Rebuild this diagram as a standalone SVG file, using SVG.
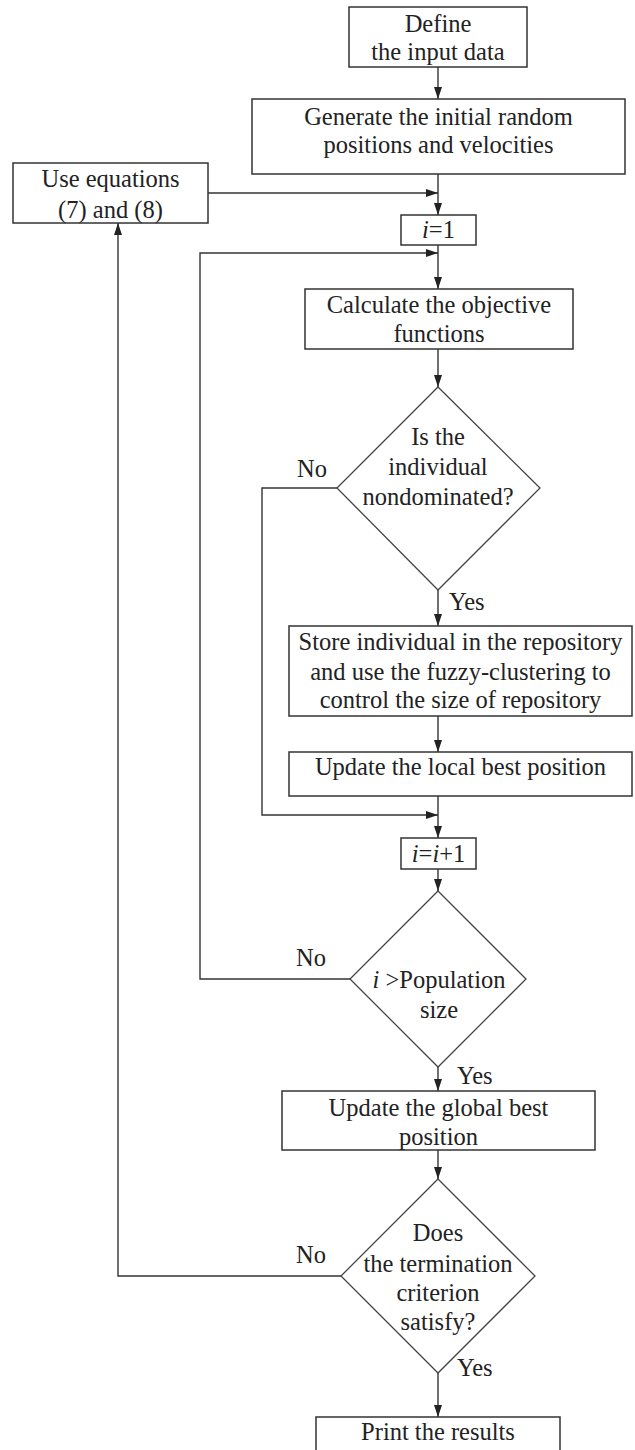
<svg xmlns="http://www.w3.org/2000/svg" width="635" height="1450" viewBox="0 0 635 1450">
<style>
.box{fill:#fff;stroke:#333;stroke-width:1.5}
.dia{fill:#fff;stroke:#444;stroke-width:1.3}
.ln{fill:none;stroke:#333;stroke-width:1.4}
.t{font-family:'Liberation Serif','Times New Roman',serif;font-size:24.5px;fill:#222}
.c{text-anchor:middle}
.it{font-style:italic}
</style>
<defs>
<marker id="ah" viewBox="0 0 12 8" refX="12" refY="4" markerWidth="12" markerHeight="8" markerUnits="userSpaceOnUse" orient="auto">
<path d="M0,0 L12,4 L0,8 Z" fill="#222"/>
</marker>
</defs>
<rect width="635" height="1450" fill="#fff"/>
<g id="connectors">
<line class="ln" x1="438" y1="67" x2="438" y2="99" marker-end="url(#ah)"/>
<line class="ln" x1="438" y1="174" x2="438" y2="215" marker-end="url(#ah)"/>
<line class="ln" x1="208" y1="193" x2="438" y2="193" marker-end="url(#ah)"/>
<line class="ln" x1="438" y1="245" x2="438" y2="289" marker-end="url(#ah)"/>
<polyline class="ln" points="350,979 200,979 200,253 438,253" marker-end="url(#ah)"/>
<line class="ln" x1="438" y1="349" x2="438" y2="387" marker-end="url(#ah)"/>
<line class="ln" x1="438" y1="590" x2="438" y2="626" marker-end="url(#ah)"/>
<polyline class="ln" points="337,488 262,488 262,815 438,815" marker-end="url(#ah)"/>
<line class="ln" x1="438" y1="716" x2="438" y2="752" marker-end="url(#ah)"/>
<line class="ln" x1="438" y1="796" x2="438" y2="838" marker-end="url(#ah)"/>
<line class="ln" x1="438" y1="869" x2="438" y2="891" marker-end="url(#ah)"/>
<line class="ln" x1="438" y1="1067" x2="438" y2="1091" marker-end="url(#ah)"/>
<line class="ln" x1="438" y1="1150" x2="438" y2="1179" marker-end="url(#ah)"/>
<polyline class="ln" points="341,1276 118,1276 118,223" marker-end="url(#ah)"/>
<line class="ln" x1="438" y1="1373" x2="438" y2="1417" marker-end="url(#ah)"/>
<g class="t">
<text x="297" y="477">No</text>
<text x="449" y="610">Yes</text>
<text x="296" y="966">No</text>
<text x="457" y="1084">Yes</text>
<text x="296" y="1263">No</text>
<text x="457" y="1376">Yes</text>
</g>
</g>
<g id="define" class="t">
<rect class="box" x="349" y="7" width="178" height="60"/>
<text class="c" x="438" y="32">Define</text>
<text class="c" x="438" y="60">the input data</text>
</g>
<g id="generate" class="t">
<rect class="box" x="252" y="99" width="373" height="75"/>
<text class="c" x="438.5" y="125">Generate the initial random</text>
<text class="c" x="438.5" y="153">positions and velocities</text>
</g>
<g id="useeq" class="t">
<rect class="box" x="13" y="163" width="195" height="60"/>
<text class="c" x="110.5" y="187">Use equations</text>
<text class="c" x="110.5" y="218">(7) and (8)</text>
</g>
<g id="i1" class="t">
<rect class="box" x="401" y="215" width="75" height="30"/>
<text class="c" x="438.5" y="238"><tspan class="it">i</tspan>=1</text>
</g>
<g id="calc" class="t">
<rect class="box" x="305" y="289" width="268" height="60"/>
<text class="c" x="439" y="313">Calculate the objective</text>
<text class="c" x="439" y="342">functions</text>
</g>
<g id="nondom" class="t">
<polygon class="dia" points="438,387 540,488 438,590 337,488"/>
<text class="c" x="438" y="445">Is the</text>
<text class="c" x="438" y="475">individual</text>
<text class="c" x="438" y="505">nondominated?</text>
</g>
<g id="store" class="t">
<rect class="box" x="289" y="626" width="343" height="90"/>
<text class="c" x="460.5" y="650">Store individual in the repository</text>
<text class="c" x="460.5" y="680">and use the fuzzy-clustering to</text>
<text class="c" x="460.5" y="708">control the size of repository</text>
</g>
<g id="local" class="t">
<rect class="box" x="289" y="752" width="343" height="44"/>
<text class="c" x="460.5" y="775">Update the local best position</text>
</g>
<g id="inc" class="t">
<rect class="box" x="401" y="838" width="75" height="31"/>
<text class="c" x="438.5" y="862"><tspan class="it">i</tspan>=<tspan class="it">i</tspan>+1</text>
</g>
<g id="popsize" class="t">
<polygon class="dia" points="438,891 526,979 438,1067 350,979"/>
<text class="c" x="439" y="988"><tspan class="it">i</tspan> &gt;Population</text>
<text class="c" x="439" y="1018">size</text>
</g>
<g id="global" class="t">
<rect class="box" x="282" y="1091" width="313" height="59"/>
<text class="c" x="438.5" y="1116">Update the global best</text>
<text class="c" x="438.5" y="1145">position</text>
</g>
<g id="term" class="t">
<polygon class="dia" points="438,1179 535,1276 438,1373 341,1276"/>
<text class="c" x="438" y="1241">Does</text>
<text class="c" x="438" y="1272">the termination</text>
<text class="c" x="438" y="1301">criterion</text>
<text class="c" x="438" y="1330">satisfy?</text>
</g>
<g id="print" class="t">
<rect class="box" x="316" y="1417" width="244" height="45"/>
<text class="c" x="438" y="1440">Print the results</text>
</g>
</svg>
